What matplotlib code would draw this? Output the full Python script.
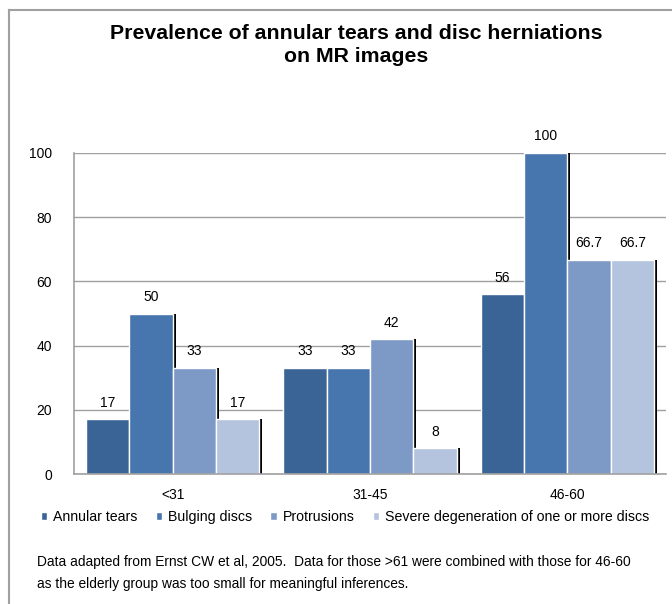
import matplotlib.pyplot as plt
from matplotlib.lines import Line2D
import numpy as np

plt.rcParams['font.family'] = ['Liberation Sans', 'DejaVu Sans']

groups = ['<31', '31-45', '46-60']
series = ['Annular tears', 'Bulging discs', 'Protrusions',
          'Severe degeneration of one or more discs']
annular = [17, 33, 56]
bulging = [50, 33, 100]
protrusions = [33, 42, 66.7]
severe = [17, 8, 66.7]
labels = [['17', '33', '56'], ['50', '33', '100'],
          ['33', '42', '66.7'], ['17', '8', '66.7']]
colors = ['#3b6496', '#4776ae', '#7d9ac6', '#b4c3de']

fig = plt.figure(figsize=(6.72, 6.04), dpi=100)
ax = fig.add_axes([74 / 672, 130 / 604, 592 / 672, 321 / 604])

x = np.arange(len(groups))
w = 0.22
sw = 0.015
all_vals = [annular, bulging, protrusions, severe]
for i, vals in enumerate(all_vals):
    pos = x + (i - 1.5) * w
    # black "shadow" on the right side of each bar
    ax.bar(pos + w / 2 + sw / 2, vals, width=sw, color='black', zorder=1)
    bars = ax.bar(pos, vals, width=w, color=colors[i], edgecolor='white',
                  linewidth=1, zorder=2, label=series[i])
    for b, t in zip(bars, labels[i]):
        ax.text(b.get_x() + b.get_width() / 2, b.get_height() + 3, t,
                ha='center', va='bottom', fontsize=10, clip_on=False)

ax.set_xlim(-0.5, 2.5)
ax.set_ylim(0, 100)
ax.set_yticks(range(0, 101, 20))
ax.set_xticks(x)
ax.set_xticklabels(groups, fontsize=10)
ax.tick_params(axis='y', labelsize=10, length=0, pad=16)
ax.tick_params(axis='x', length=0, pad=10)
ax.yaxis.grid(True, color='#a0a0a0', linewidth=1)
ax.set_axisbelow(True)
for s in ['top', 'right']:
    ax.spines[s].set_visible(False)
for s in ['left', 'bottom']:
    ax.spines[s].set_color('#a0a0a0')
    ax.spines[s].set_linewidth(1.2)

fig.legend(*ax.get_legend_handles_labels(), loc='center',
           bbox_to_anchor=(345 / 672, 1 - 517 / 604), ncol=4, frameon=False,
           fontsize=10.2, handlelength=0.45, handleheight=0.45,
           handletextpad=0.4, columnspacing=1.3)

fig.text(356 / 672, 1 - 45 / 604,
         'Prevalence of annular tears and disc herniations\non MR images',
         ha='center', va='center', fontsize=15.3, fontweight='bold',
         linespacing=1.3)

fig.text(37 / 672, 1 - 573 / 604,
         'Data adapted from Ernst CW et al, 2005.  Data for those >61 were '
         'combined with those for 46-60\nas the elderly group was too small '
         'for meaningful inferences.',
         ha='left', va='center', fontsize=9.9, linespacing=1.75)

# outer frame (only left and top edges visible)
fig.add_artist(Line2D([9 / 672, 9 / 672], [0, 1 - 10 / 604],
                      transform=fig.transFigure, color='#a0a0a0', lw=1.5))
fig.add_artist(Line2D([9 / 672, 1], [1 - 10 / 604, 1 - 10 / 604],
                      transform=fig.transFigure, color='#a0a0a0', lw=1.5))

fig.savefig('out.png', dpi=100)
